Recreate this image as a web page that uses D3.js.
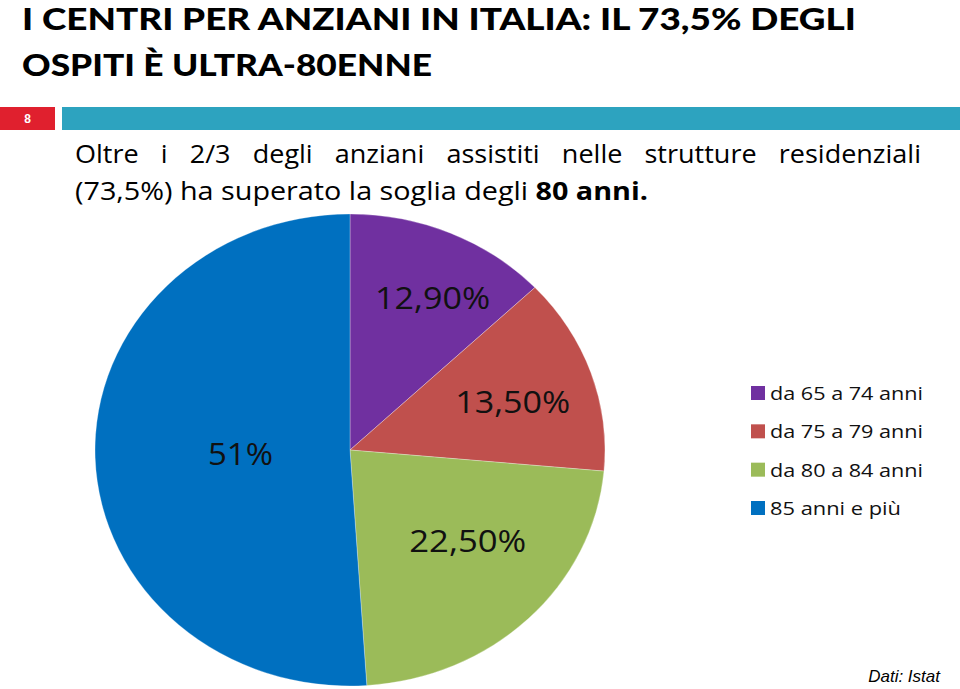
<!DOCTYPE html>
<html>
<head>
<meta charset="utf-8">
<script src="https://cdn.jsdelivr.net/npm/d3@7"></script>
<style>
  body { margin: 0; background: #fff; }
  svg { display: block; }
</style>
</head>
<body>
<div id="chart"></div>
<script>
// data
var categories = ["da 65 a 74 anni", "da 75 a 79 anni", "da 80 a 84 anni", "85 anni e più"];
var values = [12.9, 13.5, 22.5, 51];
var labels = ["12,90%", "13,50%", "22,50%", "51%"];
var colors = ["#7030A0", "#C0504D", "#9BBB59", "#0070C0"];

var W = 960, H = 689;

var svg = d3.select("#chart").append("svg")
  .attr("width", W)
  .attr("height", H);

// title
var title = svg.append("g")
  .attr("font-family", "Lato, 'Open Sans', sans-serif")
  .attr("font-weight", 900)
  .attr("font-size", 31)
  .attr("fill", "#000");
title.append("text").attr("x", 22).attr("y", 30)
  .attr("textLength", 834).attr("lengthAdjust", "spacingAndGlyphs")
  .text("I CENTRI PER ANZIANI IN ITALIA: IL 73,5% DEGLI");
title.append("text").attr("x", 22).attr("y", 76)
  .attr("textLength", 410).attr("lengthAdjust", "spacingAndGlyphs")
  .text("OSPITI È ULTRA-80ENNE");

// header bar
svg.append("rect").attr("x", 0).attr("y", 107).attr("width", 55).attr("height", 23).attr("fill", "#E0202E");
svg.append("rect").attr("x", 62).attr("y", 107).attr("width", W - 62).attr("height", 23).attr("fill", "#2DA3BF");
svg.append("text").attr("x", 27.5).attr("y", 123)
  .attr("text-anchor", "middle")
  .attr("font-family", "'Liberation Sans', Arial, sans-serif")
  .attr("font-weight", "bold").attr("font-size", 12).attr("fill", "#fff")
  .text("8");

// subtitle, first line justified
var sub = svg.append("g")
  .attr("font-family", "'Open Sans', sans-serif")
  .attr("font-size", 25)
  .attr("fill", "#000");
var words = "Oltre i 2/3 degli anziani assistiti nelle strutture residenziali".split(" ");
var wt = sub.selectAll("text.w").data(words).enter().append("text")
  .attr("class", "w").attr("y", 163).text(function(d) { return d; });
var lens = [];
wt.each(function() { lens.push(this.getComputedTextLength() * 1.08); });
wt.attr("textLength", function(d, i) { return lens[i]; })
  .attr("lengthAdjust", "spacingAndGlyphs");
var x0 = 75, x1 = 921;
var gap = (x1 - x0 - d3.sum(lens)) / (words.length - 1);
var cx = x0;
wt.attr("x", function(d, i) { var p = cx; cx += lens[i] + gap; return p; });

var line2 = sub.append("text").attr("x", 75).attr("y", 200)
  .attr("textLength", 573).attr("lengthAdjust", "spacingAndGlyphs");
line2.append("tspan").text("(73,5%) ha superato la soglia degli ");
line2.append("tspan").attr("font-weight", "bold").text("80 anni.");

// pie (slightly elliptical like the original)
var rx = 255, ry = 236, pcx = 350, pcy = 450;
var pie = d3.pie().sort(null).value(function(d) { return d; });
var arcs = pie(values);
var arc = d3.arc().innerRadius(0).outerRadius(ry);

var pg = svg.append("g")
  .attr("transform", "translate(" + pcx + "," + pcy + ") scale(" + (rx / ry) + ",1)");
pg.selectAll("path").data(arcs).enter().append("path")
  .attr("d", arc)
  .attr("fill", function(d, i) { return colors[i]; })
  .attr("stroke", "rgba(255,255,255,0.35)")
  .attr("stroke-width", 0.8);

// slice labels
var labelR = [0.72, 0.67, 0.6, 0.43];
var labelShift = [3.5, 1.5, -6, 0];
var labelW = [115, 115, 117, 65];
svg.selectAll("text.lbl").data(arcs).enter().append("text")
  .attr("class", "lbl")
  .attr("x", function(d, i) {
    var a = (d.startAngle + d.endAngle) / 2 + labelShift[i] * Math.PI / 180;
    return pcx + Math.sin(a) * rx * labelR[i] - labelW[i] / 2;
  })
  .attr("y", function(d, i) {
    var a = (d.startAngle + d.endAngle) / 2 + labelShift[i] * Math.PI / 180;
    return pcy - Math.cos(a) * ry * labelR[i];
  })
  .attr("dy", "0.36em")
  .attr("textLength", function(d, i) { return labelW[i]; })
  .attr("lengthAdjust", "spacingAndGlyphs")
  .attr("font-family", "'Open Sans', sans-serif")
  .attr("font-size", 31)
  .attr("fill", "#111")
  .text(function(d, i) { return labels[i]; });

// legend
var y = d3.scalePoint().domain(categories).range([393, 508]);
var lg = svg.append("g")
  .attr("font-family", "'Open Sans', sans-serif")
  .attr("font-size", 19)
  .attr("fill", "#111");
var item = lg.selectAll("g").data(categories).enter().append("g")
  .attr("transform", function(d) { return "translate(751," + y(d) + ")"; });
item.append("rect").attr("x", 0).attr("y", -7).attr("width", 14).attr("height", 14)
  .attr("fill", function(d, i) { return colors[i]; });
item.append("text").attr("x", 19).attr("dy", "0.36em")
  .attr("textLength", function(d, i) { return i === 3 ? 131 : 153; })
  .attr("lengthAdjust", "spacingAndGlyphs")
  .text(function(d) { return d; });

// source
svg.append("text").attr("x", 940).attr("y", 682)
  .attr("text-anchor", "end")
  .attr("font-family", "'Liberation Sans', Arial, sans-serif")
  .attr("font-style", "italic").attr("font-size", 17).attr("fill", "#000")
  .text("Dati: Istat");
</script>
</body>
</html>
